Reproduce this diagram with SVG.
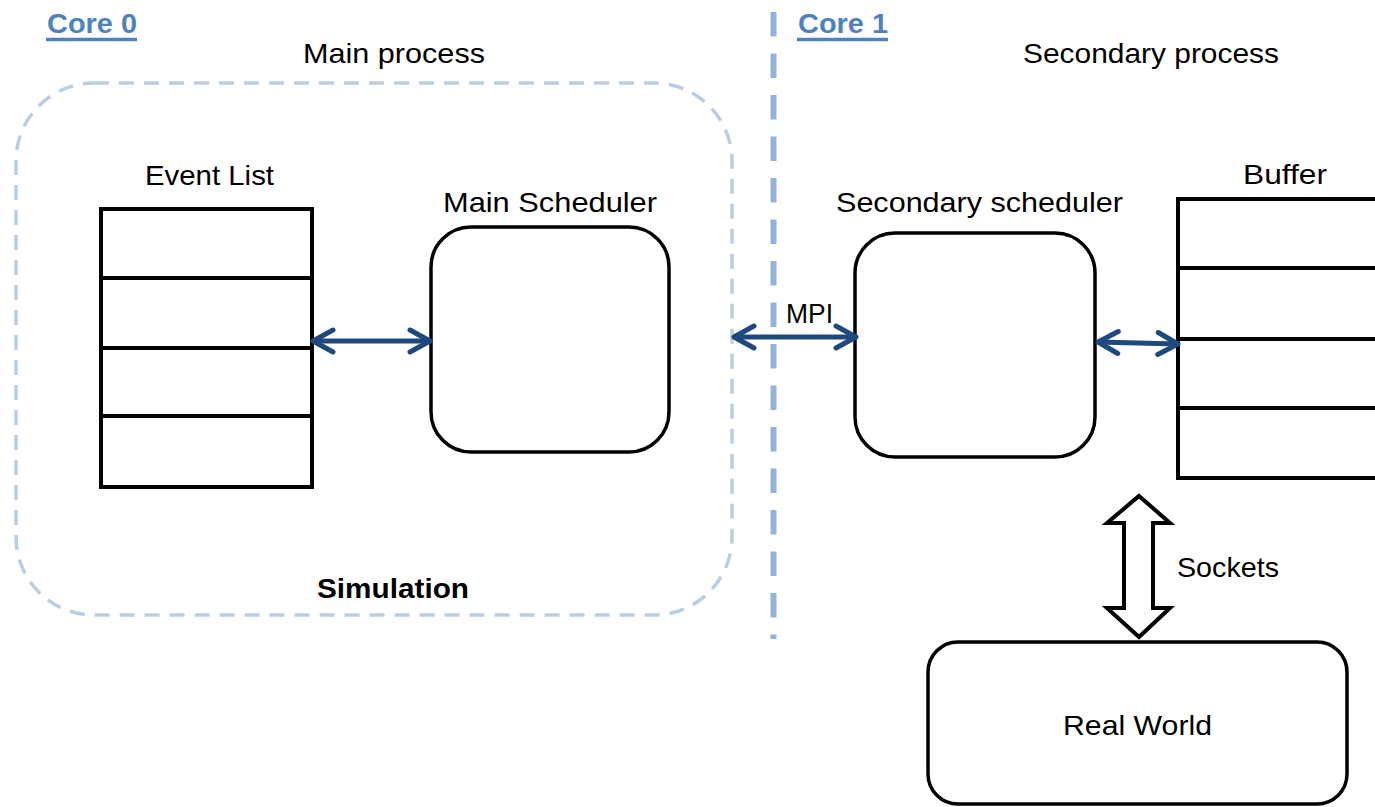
<svg xmlns="http://www.w3.org/2000/svg" width="1375" height="807" viewBox="0 0 1375 807">
<defs>
<style>
text{font-family:"Liberation Sans",Arial,sans-serif;font-size:28px;fill:#000}
.core{font-weight:bold;fill:#4f81bd}
.bold{font-weight:bold}
.box{fill:#fff;stroke:#000;stroke-width:3.5}
.tbl{fill:#fff;stroke:#000;stroke-width:4}
.conn{fill:none;stroke:#1f497d;stroke-width:5}
</style>
<marker id="chev" markerUnits="userSpaceOnUse" viewBox="-28 -16 32 32" markerWidth="32" markerHeight="32" refX="0" refY="0" orient="auto-start-reverse">
<path d="M-20,-11 L0,0 L-20,11" fill="none" stroke="#1f497d" stroke-width="5" stroke-linejoin="round" stroke-linecap="round"/>
</marker>
</defs>
<rect width="1375" height="807" fill="#fff"/>

<g id="simulation-area">
<rect x="16" y="83" width="716" height="532" rx="78" fill="none" stroke="#b9cde5" stroke-width="3.5" stroke-dasharray="15 10"/>
<text class="bold" x="317" y="598" textLength="152" lengthAdjust="spacingAndGlyphs">Simulation</text>
</g>

<g id="core-divider">
<line x1="773.5" y1="12" x2="773.5" y2="639" stroke="#95b3d7" stroke-width="6" stroke-dasharray="24.5 17"/>
</g>

<g id="core0-label">
<text class="core" x="47" y="33" textLength="90" lengthAdjust="spacingAndGlyphs">Core 0</text>
<line x1="46" y1="39.5" x2="137" y2="39.5" stroke="#4f81bd" stroke-width="3.5"/>
</g>
<g id="core1-label">
<text class="core" x="798" y="33" textLength="90" lengthAdjust="spacingAndGlyphs">Core 1</text>
<line x1="797" y1="39.5" x2="888" y2="39.5" stroke="#4f81bd" stroke-width="3.5"/>
</g>

<g id="main-process-label">
<text x="303" y="63" textLength="182" lengthAdjust="spacingAndGlyphs">Main process</text>
</g>
<g id="secondary-process-label">
<text x="1023" y="63" textLength="256" lengthAdjust="spacingAndGlyphs">Secondary process</text>
</g>

<g id="event-list">
<text x="145" y="185" textLength="129" lengthAdjust="spacingAndGlyphs">Event List</text>
<rect class="tbl" x="101" y="209" width="211" height="278"/>
<line class="tbl" x1="101" y1="278" x2="312" y2="278"/>
<line class="tbl" x1="101" y1="348" x2="312" y2="348"/>
<line class="tbl" x1="101" y1="416" x2="312" y2="416"/>
</g>

<g id="main-scheduler">
<text x="443" y="212" textLength="214" lengthAdjust="spacingAndGlyphs">Main Scheduler</text>
<rect class="box" x="431" y="227" width="238" height="225" rx="40"/>
</g>

<g id="secondary-scheduler">
<text x="836" y="212" textLength="287" lengthAdjust="spacingAndGlyphs">Secondary scheduler</text>
<rect class="box" x="855" y="233" width="240" height="224" rx="40"/>
</g>

<g id="buffer">
<text x="1243" y="184" textLength="84" lengthAdjust="spacingAndGlyphs">Buffer</text>
<rect class="tbl" x="1178" y="199" width="230" height="279"/>
<line class="tbl" x1="1178" y1="268" x2="1375" y2="268"/>
<line class="tbl" x1="1178" y1="339" x2="1375" y2="339"/>
<line class="tbl" x1="1178" y1="408" x2="1375" y2="408"/>
</g>

<g id="real-world">
<rect class="box" x="928" y="642" width="419" height="162" rx="30"/>
<text x="1063" y="735" textLength="149" lengthAdjust="spacingAndGlyphs">Real World</text>
</g>

<g id="connectors">
<line class="conn" x1="313" y1="341" x2="430" y2="341" marker-start="url(#chev)" marker-end="url(#chev)"/>
<line class="conn" x1="734" y1="337" x2="856" y2="337" marker-start="url(#chev)" marker-end="url(#chev)"/>
<text x="786" y="323" font-size="25" textLength="47" lengthAdjust="spacingAndGlyphs">MPI</text>
<line class="conn" x1="1098" y1="342" x2="1178" y2="344" marker-start="url(#chev)" marker-end="url(#chev)"/>
<polygon points="1139,496 1170,523 1153,523 1153,608 1170,608 1139,637 1107,608 1124,608 1124,523 1107,523" fill="#fff" stroke="#000" stroke-width="4" stroke-linejoin="miter"/>
<text x="1177" y="577" textLength="102" lengthAdjust="spacingAndGlyphs">Sockets</text>
</g>
</svg>
